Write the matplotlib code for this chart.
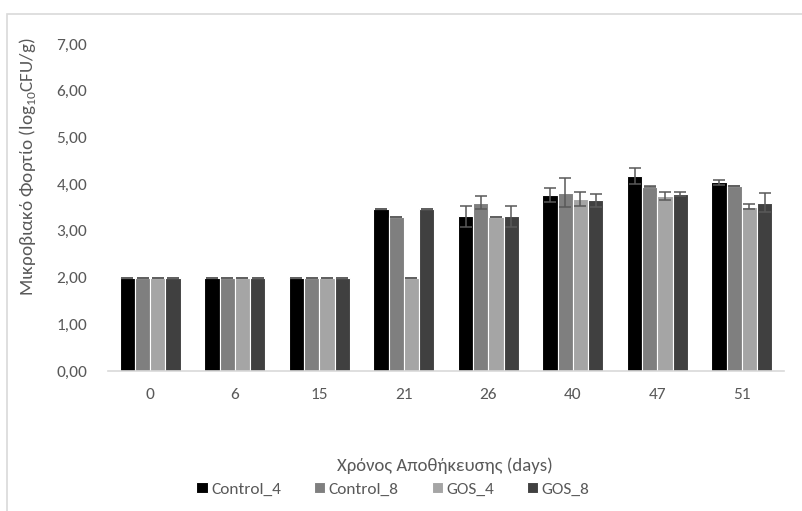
import numpy as np
import matplotlib
matplotlib.use('Agg')
import matplotlib.pyplot as plt
from matplotlib.patches import Rectangle

plt.rcParams['font.family'] = ['Carlito', 'Liberation Sans Narrow', 'Liberation Sans', 'DejaVu Sans']
plt.rcParams['mathtext.fontset'] = 'custom'
plt.rcParams['mathtext.rm'] = 'Carlito'

days = ['0', '6', '15', '21', '26', '40', '47', '51']
series = ['Control_4', 'Control_8', 'GOS_4', 'GOS_8']
control_4 = [2.00, 2.00, 2.00, 3.47, 3.31, 3.77, 4.17, 4.04]
control_8 = [2.00, 2.00, 2.00, 3.30, 3.60, 3.82, 3.94, 3.96]
gos_4 = [2.00, 2.00, 2.00, 2.00, 3.30, 3.68, 3.75, 3.52]
gos_8 = [2.00, 2.00, 2.00, 3.47, 3.31, 3.65, 3.79, 3.60]
err_control_4 = [0, 0, 0, 0, 0.23, 0.15, 0.17, 0.05]
err_control_8 = [0, 0, 0, 0, 0.14, 0.30, 0.01, 0.01]
err_gos_4 = [0, 0, 0, 0, 0, 0.15, 0.09, 0.06]
err_gos_8 = [0, 0, 0, 0, 0.23, 0.14, 0.05, 0.20]

values = [control_4, control_8, gos_4, gos_8]
errors = [err_control_4, err_control_8, err_gos_4, err_gos_8]
colors = ['#000000', '#7f7f7f', '#a5a5a5', '#404040']

fig = plt.figure(figsize=(8.02, 5.11), dpi=100)
ax = fig.add_axes([0.1347, 0.274, 0.843, 0.640])

x = np.arange(len(days))
w = 0.18
for i, (vals, errs, col, name) in enumerate(zip(values, errors, colors, series)):
    pos = x + (i - 1.5) * w
    ax.bar(pos, vals, w, color=col, edgecolor='white', linewidth=0.8, label=name, zorder=2)
    ax.errorbar(pos, vals, yerr=errs, fmt='none', ecolor='#595959', elinewidth=1.1,
                capsize=4.2, capthick=1.1, zorder=3)

ax.set_xlim(-0.5, len(days) - 0.5)
ax.set_ylim(0, 7)
ax.set_yticks(np.arange(0, 8, 1))
ax.set_yticklabels([f'{v:.2f}'.replace('.', ',') for v in np.arange(0, 8, 1)])
ax.set_xticks(x)
ax.set_xticklabels(days)
ax.tick_params(axis='y', length=0, labelsize=12.5, labelcolor='#595959', pad=15)
ax.tick_params(axis='x', length=0, labelsize=12.5, labelcolor='#595959', pad=12)
for s in ['top', 'right', 'left']:
    ax.spines[s].set_visible(False)
ax.spines['bottom'].set_color('#d9d9d9')
ax.spines['bottom'].set_linewidth(1.2)

fig.text(28 / 802, 1 - 167 / 511, 'Μικροβιακό Φορτίο (log$_{10}$CFU/g)', rotation=90,
         ha='center', va='center', fontsize=13.8, color='#595959')
fig.text(445 / 802, 1 - 466 / 511, 'Χρόνος Αποθήκευσης (days)', ha='center', va='center',
         fontsize=13.5, color='#595959')

leg = fig.legend(loc='center', bbox_to_anchor=(393 / 802, 1 - 489 / 511), ncol=4,
                 frameon=False, fontsize=12.5, handlelength=0.65, handleheight=0.65,
                 handletextpad=0.2, columnspacing=1.9)
for t in leg.get_texts():
    t.set_color('#595959')

# chart area border (top and left visible)
fig.patches.append(Rectangle((7 / 802, -0.1), 1.2, 1 - 14 / 511 + 0.1, transform=fig.transFigure,
                             fill=False, edgecolor='#d9d9d9', linewidth=1.2))

fig.savefig('out.png', dpi=100)
